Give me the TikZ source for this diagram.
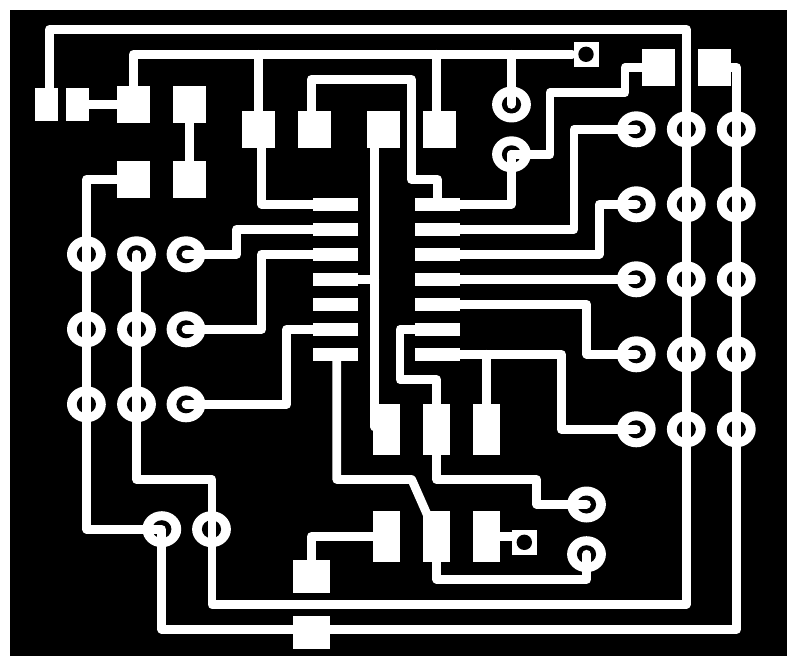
\documentclass[tikz,border=0pt]{standalone}
\tikzset{
  board/.style={fill=black},
  copperpad/.style={fill=white},
  trace/.style={draw=white,line width=8.7pt,line cap=round,line join=round},
  drill/.style={fill=black},
}
\newcommand{\viaring}[2]{\fill[copperpad] (#1,#2) ellipse [x radius=19.4pt,y radius=18pt];
  \fill[drill] (#1,#2) ellipse [x radius=9.6pt,y radius=9pt];}
\newcommand{\padbox}[4]{\fill[copperpad] (#1,#2) rectangle (#3,#4);}
\begin{document}
\begin{tikzpicture}[x=1pt,y=-1pt]
\useasboundingbox (0,0) rectangle (797,666);
\fill[white] (0,0) rectangle (797,666);
\fill[board] (10,10) rectangle (787.3,656);
% rings
\foreach \yy in {254.3,329.3,404.3}{\foreach \xx in {86.4,136.5,186}{\viaring{\xx}{\yy}}}
\foreach \yy in {129.3,204.3,279.3,354.3,429.3}{\foreach \xx in {636.3,686.3,736.3}{\viaring{\xx}{\yy}}}
\viaring{511.5}{104.5}
\viaring{511.5}{154.3}
\viaring{161.8}{529.2}
\viaring{211.5}{529.2}
\viaring{586.5}{504.5}
\viaring{586.5}{554.2}
% traces
\draw[trace] (49.5,100) -- (49.5,29.3) -- (686.3,29.3) -- (686.3,604.3) -- (212,604.3) -- (212,479.5) -- (136.7,479.5) -- (136.7,254.3);
\draw[trace] (130,179.3) -- (86.7,179.3) -- (86.7,529.3) -- (161.7,529.3) -- (161.7,629.3) -- (736.7,629.3) -- (736.7,67.3) -- (715,67.3);
\draw[trace] (133.5,100) -- (133.5,54.3) -- (572,54.3);
\draw[trace] (75,104.3) -- (133,104.3);
\draw[trace] (189.3,100) -- (189.3,180);
\draw[trace] (258.3,54.3) -- (258.3,125);
\draw[trace] (261.7,130) -- (261.7,204.3) -- (330,204.3);
\draw[trace] (311.3,125) -- (311.3,79.3) -- (411.3,79.3) -- (411.3,179.3) -- (437.3,179.3) -- (437.3,204.3);
\draw[trace] (374.7,125) -- (374.7,427);
\draw[trace] (340,279.3) -- (374.7,279.3);
\draw[trace] (436.3,54.3) -- (436.3,125);
\draw[trace] (511.3,54.3) -- (511.3,104.5);
\draw[trace] (440,204.3) -- (511.3,204.3) -- (511.3,154.3);
\draw[trace] (511.3,154.3) -- (550,154.3) -- (550,92.7) -- (625,92.7) -- (625,67.7) -- (655,67.7);
\draw[trace] (440,229.3) -- (574,229.3) -- (574,129.3) -- (636.3,129.3);
\draw[trace] (440,254.3) -- (599.3,254.3) -- (599.3,204.3) -- (636.3,204.3);
\draw[trace] (440,279.3) -- (636.3,279.3);
\draw[trace] (440,304.3) -- (586.7,304.3) -- (586.7,354.3) -- (636.3,354.3);
\draw[trace] (440,354.3) -- (561.3,354.3) -- (561.3,429.3) -- (636.3,429.3);
\draw[trace] (486.3,354.3) -- (486.3,420);
\draw[trace] (330,229.3) -- (236.7,229.3) -- (236.7,254.3) -- (186,254.3);
\draw[trace] (330,254.3) -- (261.7,254.3) -- (261.7,329.3) -- (186,329.3);
\draw[trace] (330,329.3) -- (286.7,329.3) -- (286.7,404.3) -- (186,404.3);
\draw[trace] (336.7,356) -- (336.7,479.5) -- (411.7,479.5) -- (430,521);
\draw[trace] (430,329.3) -- (400,329.3) -- (400,379.7) -- (436.7,379.7) -- (436.7,430);
\draw[trace] (436.7,430) -- (436.7,479.5) -- (536.7,479.5) -- (536.7,504.3) -- (586.5,504.3);
\draw[trace] (436.7,540) -- (436.7,579.3) -- (586.7,579.3) -- (586.7,554.2);
\draw[trace] (490,536.7) -- (520,536.7);
\draw[trace] (386,536.7) -- (311.3,536.7) -- (311.3,575);
% pads
\padbox{35}{88}{58}{121}
\padbox{66}{88}{89}{121}
\padbox{117}{86}{150}{123}
\padbox{173}{86}{206}{123}
\padbox{117}{161}{150}{198}
\padbox{173}{161}{206}{198}
\padbox{242}{111}{275}{148}
\padbox{298}{111}{331}{148}
\padbox{367}{111}{400}{148}
\padbox{423}{111}{456}{148}
\padbox{642}{49}{675}{86}
\padbox{698}{49}{731}{86}
\foreach \yy in {204.5,229.5,254.5,279.5,304.5,329.5,354.5}{
  \padbox{313}{\yy-6.5}{358}{\yy+6.5}
  \padbox{415}{\yy-6.5}{460}{\yy+6.5}
}
\padbox{373}{404}{400}{455}
\padbox{423}{404}{450}{455}
\padbox{473}{404}{500}{455}
\padbox{373}{511}{400}{562}
\padbox{423}{511}{450}{562}
\padbox{473}{511}{500}{562}
\padbox{293}{560}{330}{593}
\padbox{293}{616}{330}{649}
% square pads with drill holes
\padbox{574}{42}{599}{67}
\fill[drill] (586,54.3) circle [radius=7.7pt];
\padbox{512}{530}{537}{555}
\fill[drill] (524.3,542.3) circle [radius=7.7pt];
\end{tikzpicture}
\end{document}
